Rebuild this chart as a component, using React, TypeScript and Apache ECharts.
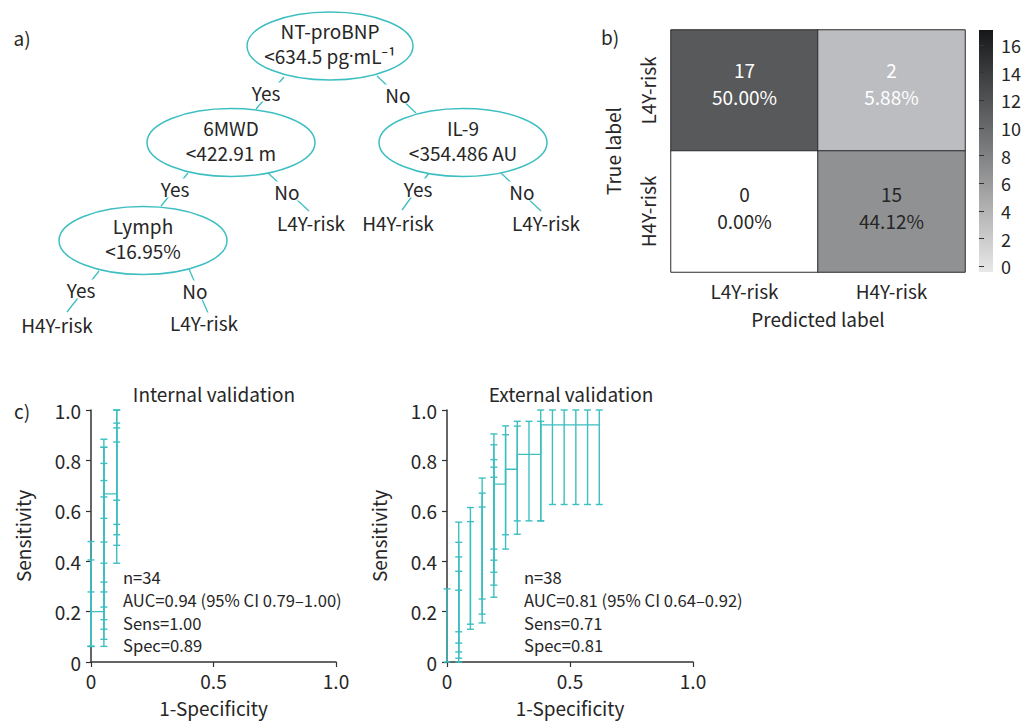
import React, { useEffect, useRef } from 'react';
import * as echarts from 'echarts';

const TEAL = '#3dbfc2';
const TXT = '#262626';
const AXIS = '#333333';
const FONT = '"Noto Sans CJK SC", "Source Sans Pro", "Noto Sans", sans-serif';
const FS = 19;

// ---------- Panel a: decision tree ----------
const treeNodes = [
  { id: 'root', lines: ['NT-proBNP', '<634.5 pg{d|·}mL⁻¹'] },
  { id: 'mwd', lines: ['6MWD', '<422.91 m'] },
  { id: 'il9', lines: ['IL-9', '<354.486 AU'] },
  { id: 'lymph', lines: ['Lymph', '<16.95%'] },
];
const treeEdges = [
  { from: 'root', to: 'mwd', label: 'Yes' },
  { from: 'root', to: 'il9', label: 'No' },
  { from: 'mwd', to: 'lymph', label: 'Yes' },
  { from: 'mwd', to: 'leaf1', label: 'No' },
  { from: 'il9', to: 'leaf2', label: 'Yes' },
  { from: 'il9', to: 'leaf3', label: 'No' },
  { from: 'lymph', to: 'leaf4', label: 'Yes' },
  { from: 'lymph', to: 'leaf5', label: 'No' },
];
const treeLeaves = [
  { id: 'leaf1', text: 'L4Y-risk' },
  { id: 'leaf2', text: 'H4Y-risk' },
  { id: 'leaf3', text: 'L4Y-risk' },
  { id: 'leaf4', text: 'H4Y-risk' },
  { id: 'leaf5', text: 'L4Y-risk' },
];

// layout (pixels) for the diagram
const nodeLayout: Record<string, { cx: number; cy: number; rx: number; ry: number }> = {
  root: { cx: 330, cy: 46, rx: 83, ry: 34 },
  mwd: { cx: 231, cy: 142.5, rx: 84, ry: 34 },
  il9: { cx: 463, cy: 142.5, rx: 84, ry: 34 },
  lymph: { cx: 143, cy: 240.5, rx: 84, ry: 34 },
};
const leafLayout: Record<string, [number, number]> = {
  leaf1: [311, 222],
  leaf2: [398, 222],
  leaf3: [546, 222],
  leaf4: [57, 324],
  leaf5: [204, 322],
};
const edgeLayout = [
  { p: [284, 77], c: [256, 109], l: [266, 92] },
  { p: [377, 76], c: [416, 113], l: [398, 94] },
  { p: [188, 173], c: [161, 206], l: [175, 188] },
  { p: [268, 173], c: [309, 211], l: [287, 191] },
  { p: [429, 173], c: [402, 210], l: [418, 188] },
  { p: [501, 173], c: [541, 211], l: [522, 191] },
  { p: [99, 271], c: [67, 312], l: [81, 289] },
  { p: [189, 269], c: [208, 313], l: [195, 290] },
];

// ---------- Panel b: confusion matrix ----------
const predictedLabels = ['L4Y-risk', 'H4Y-risk'];
const trueLabels = ['L4Y-risk', 'H4Y-risk'];
const confusionCounts = [
  [17, 2],
  [0, 15],
];
const confusionPercents = [
  ['50.00%', '5.88%'],
  ['0.00%', '44.12%'],
];
const colorbarTicks = [0, 2, 4, 6, 8, 10, 12, 14, 16];

// ---------- Panel c: ROC with CI bars ----------
const internalCurve = [
  [0, 0.2],
  [0.0526, 0.2],
  [0.0526, 0.667],
  [0.105, 0.667],
];
// [fpr, lower, upper]
const internalBars = [
  [0, 0.062, 0.478],
  [0, 0.062, 0.405],
  [0, 0.062, 0.278],
  [0.0526, 0.062, 0.476],
  [0.0526, 0.09, 0.57],
  [0.0526, 0.13, 0.655],
  [0.0526, 0.168, 0.72],
  [0.0526, 0.218, 0.788],
  [0.0526, 0.278, 0.852],
  [0.0526, 0.317, 0.852],
  [0.0526, 0.392, 0.884],
  [0.105, 0.392, 0.873],
  [0.105, 0.463, 0.929],
  [0.105, 0.505, 0.948],
  [0.105, 0.546, 1.0],
  [0.105, 0.642, 1.0],
];
const internalStats = ['n=34', 'AUC=0.94 (95% CI 0.79–1.00)', 'Sens=1.00', 'Spec=0.89'];

const externalCurve = [
  [0.19, 0.706],
  [0.238, 0.706],
  [0.238, 0.765],
  [0.286, 0.765],
  [0.286, 0.824],
  [0.381, 0.824],
  [0.381, 0.941],
  [0.619, 0.941],
];
const externalBars = [
  [0, 0, 0.29],
  [0.0476, 0, 0.285],
  [0.0476, 0.015, 0.36],
  [0.0476, 0.04, 0.417],
  [0.0476, 0.075, 0.475],
  [0.0476, 0.12, 0.555],
  [0.0952, 0.13, 0.557],
  [0.0952, 0.15, 0.613],
  [0.1429, 0.155, 0.615],
  [0.1429, 0.19, 0.67],
  [0.1429, 0.25, 0.73],
  [0.1905, 0.257, 0.733],
  [0.1905, 0.305, 0.773],
  [0.1905, 0.356, 0.803],
  [0.1905, 0.404, 0.862],
  [0.1905, 0.448, 0.905],
  [0.2381, 0.448, 0.902],
  [0.2381, 0.505, 0.937],
  [0.2857, 0.507, 0.936],
  [0.2857, 0.56, 0.955],
  [0.3333, 0.56, 0.955],
  [0.381, 0.56, 0.955],
  [0.381, 0.56, 1.0],
  [0.4286, 0.625, 1.0],
  [0.4762, 0.625, 1.0],
  [0.5238, 0.625, 1.0],
  [0.5714, 0.625, 1.0],
  [0.619, 0.625, 1.0],
];
const externalStats = ['n=38', 'AUC=0.81 (95% CI 0.64–0.92)', 'Sens=0.71', 'Spec=0.81'];

function errorBarRender(params: any, api: any) {
  const x = api.value(0);
  const lo = api.value(1);
  const hi = api.value(2);
  const a = api.coord([x, lo]);
  const b = api.coord([x, hi]);
  const w = 3.5;
  const style = { stroke: TEAL, lineWidth: 1.4 };
  return {
    type: 'group',
    children: [
      { type: 'line', shape: { x1: a[0], y1: a[1], x2: b[0], y2: b[1] }, style },
      { type: 'line', shape: { x1: a[0] - w, y1: a[1], x2: a[0] + w, y2: a[1] }, style },
      { type: 'line', shape: { x1: b[0] - w, y1: b[1], x2: b[0] + w, y2: b[1] }, style },
    ],
  };
}

function rocAxes(gridIndex: number) {
  const common = {
    gridIndex,
    type: 'value' as const,
    min: 0,
    max: 1,
    axisLine: { show: true, onZero: false, lineStyle: { color: AXIS, width: 1.5 } },
    axisTick: { show: true, length: 5, lineStyle: { color: AXIS, width: 1.2 } },
    splitLine: { show: false },
    nameTextStyle: { fontFamily: FONT, fontSize: FS, color: TXT },
  };
  const xAxis = {
    ...common,
    interval: 0.5,
    name: '1-Specificity',
    nameLocation: 'middle',
    nameGap: 36,
    axisLabel: {
      fontFamily: FONT,
      fontSize: FS,
      color: TXT,
      margin: 9,
      formatter: (v: number) => (v === 0 ? '0' : v.toFixed(1)),
    },
  };
  const yAxis = {
    ...common,
    interval: 0.2,
    name: 'Sensitivity',
    nameLocation: 'middle',
    nameGap: 59,
    axisLabel: {
      fontFamily: FONT,
      fontSize: FS,
      color: TXT,
      margin: 10,
      formatter: (v: number) => (v === 0 ? '0' : v.toFixed(1)),
    },
  };
  return { xAxis, yAxis };
}

export default function App() {
  const ref = useRef<HTMLDivElement>(null);
  useEffect(() => {
    if (!ref.current) return;
    const chart = echarts.init(ref.current, undefined, { renderer: 'svg' });

    const graphics: any[] = [];
    const letter = (t: string, x: number, y: number) => ({
      type: 'text',
      style: { text: t, x, y, fill: TXT, fontFamily: FONT, fontSize: FS, textAlign: 'center', textVerticalAlign: 'middle' },
    });
    graphics.push(letter('a)', 22, 37), letter('b)', 610, 36), letter('c)', 22, 410));

    // tree edges
    treeEdges.forEach((e, i) => {
      const L = edgeLayout[i];
      graphics.push({
        type: 'line',
        shape: { x1: L.p[0], y1: L.p[1], x2: L.c[0], y2: L.c[1] },
        style: { stroke: TEAL, lineWidth: 1.3 },
      });
      graphics.push({
        type: 'text',
        z: 10,
        style: {
          text: e.label,
          x: L.l[0],
          y: L.l[1],
          fill: TXT,
          fontFamily: FONT,
          fontSize: FS,
          textAlign: 'center',
          textVerticalAlign: 'middle',
          backgroundColor: '#ffffff',
          padding: [0, 1],
        },
      });
    });
    // tree nodes
    treeNodes.forEach((n) => {
      const L = nodeLayout[n.id];
      graphics.push({
        type: 'ellipse',
        z: 20,
        shape: { cx: L.cx, cy: L.cy, rx: L.rx, ry: L.ry },
        style: { fill: '#ffffff', stroke: TEAL, lineWidth: 1.5 },
      });
      graphics.push({
        type: 'text',
        z: 21,
        style: {
          text: n.lines.join('\n'),
          x: L.cx,
          y: L.cy - 3,
          fill: TXT,
          fontFamily: FONT,
          fontSize: FS,
          lineHeight: 25,
          textAlign: 'center',
          textVerticalAlign: 'middle',
          rich: {
            d: { fontFamily: '"Noto Sans", "DejaVu Sans", sans-serif', fontSize: 17, lineHeight: 25, fill: TXT },
          },
        },
      });
    });
    treeLeaves.forEach((lf) => {
      const p = leafLayout[lf.id];
      graphics.push({
        type: 'text',
        z: 10,
        style: {
          text: lf.text,
          x: p[0],
          y: p[1],
          fill: TXT,
          fontFamily: FONT,
          fontSize: FS,
          textAlign: 'center',
          textVerticalAlign: 'middle',
          backgroundColor: '#ffffff',
        },
      });
    });

    // colorbar gradient
    graphics.push({
      type: 'rect',
      shape: { x: 979, y: 30, width: 14, height: 242 },
      style: {
        fill: new echarts.graphic.LinearGradient(0, 1, 0, 0, [
          { offset: 0, color: '#e8e8e8' },
          { offset: 0.25, color: '#b4b4b5' },
          { offset: 0.55, color: '#727374' },
          { offset: 0.85, color: '#363738' },
          { offset: 1, color: '#161718' },
        ]),
      },
    });

    // ROC titles and stats
    const title = (t: string, x: number) => ({
      type: 'text',
      style: { text: t, x, y: 393, fill: TXT, fontFamily: FONT, fontSize: FS, textAlign: 'center', textVerticalAlign: 'middle' },
    });
    graphics.push(title('Internal validation', 214), title('External validation', 571));
    const stats = (lines: string[], x: number) => ({
      type: 'text',
      z: 30,
      style: {
        text: lines.join('\n'),
        x,
        y: 566,
        fill: TXT,
        fontFamily: FONT,
        fontSize: 16.6,
        lineHeight: 22.7,
        textAlign: 'left',
        textVerticalAlign: 'top',
      },
    });
    graphics.push(stats(internalStats, 123), stats(externalStats, 524));

    const heatData: any[] = [];
    trueLabels.forEach((_, r) => {
      predictedLabels.forEach((__, c) => {
        heatData.push({
          value: [c, r, confusionCounts[r][c]],
          pct: confusionPercents[r][c],
          label: { color: r === 0 ? '#ffffff' : TXT, offset: [0, r === 0 ? -8 : -5] },
        });
      });
    });

    const roc1 = rocAxes(2);
    const roc2 = rocAxes(3);

    const option: any = {
      animation: false,
      backgroundColor: '#ffffff',
      textStyle: { fontFamily: FONT },
      grid: [
        { left: 671, top: 30, width: 294, height: 242 },
        { left: 979, top: 30, width: 14, height: 242 },
        { left: 91, top: 410, width: 245, height: 252 },
        { left: 447, top: 410, width: 246, height: 252 },
      ],
      xAxis: [
        {
          gridIndex: 0,
          type: 'category',
          data: predictedLabels,
          axisLine: { show: false },
          axisTick: { show: false },
          splitLine: { show: false },
          axisLabel: { fontFamily: FONT, fontSize: FS, color: TXT, margin: 9 },
          name: 'Predicted label',
          nameLocation: 'middle',
          nameGap: 37,
          nameTextStyle: { fontFamily: FONT, fontSize: FS, color: TXT },
        },
        { gridIndex: 1, type: 'value', show: false, min: 0, max: 1 },
        roc1.xAxis,
        roc2.xAxis,
      ],
      yAxis: [
        {
          gridIndex: 0,
          type: 'category',
          data: trueLabels,
          inverse: true,
          axisLine: { show: false },
          axisTick: { show: false },
          splitLine: { show: false },
          axisLabel: { fontFamily: FONT, fontSize: FS, color: TXT, margin: 14, rotate: 90 },
          name: 'True label',
          nameLocation: 'middle',
          nameGap: 49,
          nameTextStyle: { fontFamily: FONT, fontSize: FS, color: TXT },
        },
        {
          gridIndex: 1,
          type: 'value',
          position: 'right',
          min: -0.41,
          max: 17.09,
          axisLine: { show: false },
          splitLine: { show: false },
          axisTick: { show: true, length: 5, customValues: colorbarTicks, lineStyle: { color: AXIS } },
          axisLabel: {
            customValues: colorbarTicks,
            fontFamily: FONT,
            fontSize: 18,
            color: TXT,
            margin: 8,
          },
        },
        roc1.yAxis,
        roc2.yAxis,
      ],
      visualMap: [
        {
          type: 'piecewise',
          show: false,
          seriesIndex: 0,
          dimension: 2,
          pieces: [
            { gte: 0, lt: 1, color: '#ffffff' },
            { gte: 1, lt: 8, color: '#bcbdc0' },
            { gte: 8, lt: 16, color: '#909193' },
            { gte: 16, lte: 17, color: '#58595b' },
          ],
        },
      ],
      series: [
        {
          type: 'heatmap',
          xAxisIndex: 0,
          yAxisIndex: 0,
          data: heatData,
          itemStyle: { borderColor: '#2b2b2b', borderWidth: 1 },
          label: {
            show: true,
            fontFamily: FONT,
            fontSize: FS,
            lineHeight: 27,
            formatter: (p: any) => `${p.value[2]}\n${p.data.pct}`,
          },
          emphasis: { disabled: true },
        },
        {
          type: 'line',
          xAxisIndex: 2,
          yAxisIndex: 2,
          data: internalCurve,
          showSymbol: false,
          lineStyle: { color: TEAL, width: 1.4 },
          z: 3,
        },
        {
          type: 'custom',
          xAxisIndex: 2,
          yAxisIndex: 2,
          data: internalBars,
          encode: { x: 0, y: [1, 2] },
          renderItem: errorBarRender,
          clip: false,
          z: 3,
        },
        {
          type: 'line',
          xAxisIndex: 3,
          yAxisIndex: 3,
          data: externalCurve,
          showSymbol: false,
          lineStyle: { color: TEAL, width: 1.4 },
          z: 3,
        },
        {
          type: 'custom',
          xAxisIndex: 3,
          yAxisIndex: 3,
          data: externalBars,
          encode: { x: 0, y: [1, 2] },
          renderItem: errorBarRender,
          clip: false,
          z: 3,
        },
      ],
      graphic: graphics,
    };
    chart.setOption(option);
    return () => chart.dispose();
  }, []);
  return <div ref={ref} style={{ position: 'absolute', left: 0, top: 0, width: 1024, height: 721 }} />;
}
